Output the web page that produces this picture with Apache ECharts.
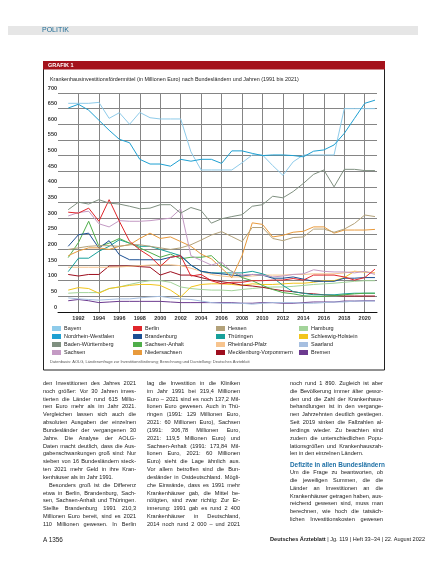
<!DOCTYPE html>
<html>
<head>
<meta charset="utf-8">
<script src="https://cdn.jsdelivr.net/npm/echarts@6/dist/echarts.min.js"></script>
<style>
  body { margin: 0; background: #fff; }
  #page { position: relative; width: 427px; height: 571px; overflow: hidden; }
  #chart { position: absolute; left: 0; top: 0; width: 427px; height: 571px; }
  .col { position: absolute; top: 380px; width: 93px; font-family: "Liberation Sans", sans-serif;
         font-size: 5.6px; line-height: 7.83px; color: #222; }
  .col div { text-align: justify; text-align-last: justify; white-space: nowrap; }
  .col div.end { text-align-last: left; }
  .col div.ind { text-indent: 6px; }
  .col div.head { color: #1d6fa5; font-weight: bold; font-size: 6.4px; text-align-last: left; }
  .foot { position: absolute; top: 536px; font-family: "Liberation Sans", sans-serif; font-size: 5.6px; color: #222; }
</style>
</head>
<body>
<div id="page">
  <div id="chart"></div>

  <div class="col" style="left:43px">
    <div>den Investitionen des Jahres 2021</div>
    <div>noch größer: Vor 30 Jahren inves-</div>
    <div>tierten die Länder rund 615 Millio-</div>
    <div>nen Euro mehr als im Jahr 2021.</div>
    <div>Vergleichen lassen sich auch die</div>
    <div>absoluten Ausgaben der einzelnen</div>
    <div>Bundesländer der vergangenen 30</div>
    <div>Jahre. Die Analyse der AOLG-</div>
    <div>Daten macht deutlich, dass die Aus-</div>
    <div>gabenschwankungen groß sind: Nur</div>
    <div>sieben von 16 Bundesländern steck-</div>
    <div>ten 2021 mehr Geld in ihre Kran-</div>
    <div class="end">kenhäuser als im Jahr 1991.</div>
    <div class="ind">Besonders groß ist die Differenz</div>
    <div>etwa in Berlin, Brandenburg, Sach-</div>
    <div>sen, Sachsen-Anhalt und Thüringen.</div>
    <div>Stellte Brandenburg 1991 210,3</div>
    <div>Millionen Euro bereit, sind es 2021</div>
    <div>110 Millionen gewesen. In Berlin</div>
  </div>

  <div class="col" style="left:147px">
    <div>lag die Investition in die Kliniken</div>
    <div>im Jahr 1991 bei 319,4 Millionen</div>
    <div>Euro – 2021 sind es noch 137,2 Mil-</div>
    <div>lionen Euro gewesen. Auch in Thü-</div>
    <div>ringen (1991: 129 Millionen Euro,</div>
    <div>2021: 60 Millionen Euro), Sachsen</div>
    <div>(1991: 306,78 Millionen Euro,</div>
    <div>2021: 119,5 Millionen Euro) und</div>
    <div>Sachsen-Anhalt (1991: 173,84 Mil-</div>
    <div>lionen Euro, 2021: 60 Millionen</div>
    <div>Euro) sieht die Lage ähnlich aus.</div>
    <div>Vor allem betroffen sind die Bun-</div>
    <div>desländer in Ostdeutschland. Mögli-</div>
    <div>che Einwände, dass es 1991 mehr</div>
    <div>Krankenhäuser gab, die Mittel be-</div>
    <div>nötigten, sind zwar richtig: Zur Er-</div>
    <div>innerung: 1991 gab es rund 2 400</div>
    <div>Krankenhäuser in Deutschland,</div>
    <div>2014 noch rund 2 000 – und 2021</div>
  </div>

  <div class="col" style="left:290px">
    <div>noch rund 1 890. Zugleich ist aber</div>
    <div>die Bevölkerung immer älter gewor-</div>
    <div>den und die Zahl der Krankenhaus-</div>
    <div>behandlungen ist in den vergange-</div>
    <div>nen Jahrzehnten deutlich gestiegen.</div>
    <div>Seit 2019 sinken die Fallzahlen al-</div>
    <div>lerdings wieder. Zu beachten sind</div>
    <div>zudem die unterschiedlichen Popu-</div>
    <div>lationsgrößen und Krankenhauszah-</div>
    <div class="end">len in den einzelnen Ländern.</div>
    <div class="head" style="margin-top:3px">Defizite in allen Bundesländern</div>
    <div>Um die Frage zu beantworten, ob</div>
    <div>die jeweiligen Summen, die die</div>
    <div>Länder an Investitionen an die</div>
    <div>Krankenhäuser getragen haben, aus-</div>
    <div>reichend gewesen sind, muss man</div>
    <div>berechnen, wie hoch die tatsäch-</div>
    <div>lichen Investitionskosten gewesen</div>
  </div>

  <div class="foot" style="left:43px;font-size:6.4px">A 1356</div>
  <div class="foot" style="left:270px"><b>Deutsches Ärzteblatt</b> | Jg. 119 | Heft 33–34 | 22. August 2022</div>
</div>

<script>
// Jahre und Fördermittel je Bundesland (Mio. Euro)
const years = [1991, 1992, 1993, 1994, 1995, 1996, 1997, 1998, 1999, 2000,
  2001, 2002, 2003, 2004, 2005, 2006, 2007, 2008, 2009, 2010,
  2011, 2012, 2013, 2014, 2015, 2016, 2017, 2018, 2019, 2020, 2021];

const bayern = [667, 667, 667, 670, 619, 637, 600, 638, 621, 617, 617, 617, 512, 454, 454, 454, 454, 477, 502, 502, 468, 437, 480, 502, 502, 502, 502, 650, 650, 650, 650];
const nrw = [652, 664, 645, 613, 581, 552, 541, 488, 473, 473, 466, 488, 482, 488, 488, 475, 515, 515, 507, 500, 502, 502, 500, 496, 514, 518, 534, 571, 619, 667, 677];
const bw = [327, 351, 345, 359, 348, 345, 338, 330, 332, 343, 343, 316, 334, 324, 284, 298, 305, 311, 338, 343, 370, 365, 385, 411, 440, 454, 400, 456, 456, 452, 452];
const sachsen = [307, 318, 322, 282, 272, 292, 290, 290, 292, 296, 300, 330, 180, 165, 150, 160, 128, 118, 120, 118, 112, 115, 120, 122, 135, 130, 128, 128, 125, 130, 120];
const berlin = [319, 316, 332, 290, 359, 290, 226, 199, 178, 146, 175, 180, 115, 120, 100, 90, 95, 95, 100, 100, 102, 102, 107, 102, 118, 118, 118, 112, 102, 110, 137];
const brandenburg = [210, 247, 252, 204, 228, 183, 167, 167, 167, 167, 175, 180, 150, 130, 125, 122, 118, 115, 120, 118, 108, 108, 112, 105, 98, 98, 98, 108, 108, 110, 110];
const sachsenAnhalt = [174, 222, 290, 210, 220, 235, 220, 205, 190, 175, 185, 170, 175, 175, 180, 150, 130, 110, 100, 85, 72, 62, 58, 52, 50, 50, 52, 55, 58, 60, 60];
const niedersachsen = [180, 195, 205, 205, 200, 210, 215, 235, 252, 235, 240, 225, 210, 185, 170, 140, 110, 180, 285, 280, 240, 245, 255, 258, 272, 272, 252, 262, 262, 262, 264];
const hessen = [200, 205, 210, 212, 212, 210, 215, 215, 210, 205, 200, 205, 215, 230, 246, 257, 241, 225, 270, 270, 235, 228, 238, 240, 265, 265, 255, 265, 283, 310, 305];
const thueringen = [129, 172, 172, 194, 210, 231, 220, 210, 210, 200, 190, 180, 150, 130, 125, 125, 125, 125, 130, 122, 110, 85, 65, 60, 55, 55, 55, 58, 60, 60, 60];
const rlp = [143, 143, 143, 143, 143, 144, 146, 148, 150, 151, 151, 148, 140, 130, 120, 115, 112, 112, 115, 118, 118, 118, 120, 120, 122, 122, 122, 125, 130, 128, 125];
const mv = [120, 115, 120, 120, 147, 147, 147, 145, 143, 118, 129, 118, 118, 110, 102, 97, 92, 86, 83, 79, 73, 68, 65, 60, 58, 55, 53, 51, 51, 51, 51];
const hamburg = [60, 62, 62, 62, 75, 80, 88, 95, 100, 100, 95, 80, 75, 72, 70, 70, 68, 72, 75, 78, 80, 80, 82, 85, 88, 90, 92, 95, 98, 100, 100];
const sh = [70, 78, 75, 60, 75, 80, 85, 88, 88, 85, 70, 48, 80, 88, 90, 90, 88, 85, 90, 88, 88, 90, 92, 92, 95, 100, 100, 110, 130, 128, 125];
const saarland = [45, 42, 40, 38, 40, 42, 42, 45, 48, 50, 45, 42, 40, 35, 30, 28, 28, 28, 25, 28, 30, 30, 30, 28, 28, 30, 32, 32, 35, 35, 35];
const bremen = [36, 40, 36, 30, 32, 34, 34, 34, 34, 34, 32, 30, 30, 30, 30, 30, 30, 28, 28, 30, 30, 28, 28, 30, 32, 32, 32, 35, 35, 36, 36];

// Legende spaltenweise wie im Original
const legendCols = [
  ["Bayern", "Nordrhein-Westfalen", "Baden-Württemberg", "Sachsen"],
  ["Berlin", "Brandenburg", "Sachsen-Anhalt", "Niedersachsen"],
  ["Hessen", "Thüringen", "Rheinland-Pfalz", "Mecklenburg-Vorpommern"],
  ["Hamburg", "Schleswig-Holstein", "Saarland", "Bremen"]
];

const states = [
  { name: "Bremen", values: bremen, color: "#6c3a8f" },
  { name: "Saarland", values: saarland, color: "#a6bfe0" },
  { name: "Hamburg", values: hamburg, color: "#a3d49a" },
  { name: "Schleswig-Holstein", values: sh, color: "#f2c51c" },
  { name: "Mecklenburg-Vorpommern", values: mv, color: "#9e0e1e" },
  { name: "Rheinland-Pfalz", values: rlp, color: "#f7c48e" },
  { name: "Thüringen", values: thueringen, color: "#17a09a" },
  { name: "Sachsen-Anhalt", values: sachsenAnhalt, color: "#4fae4a" },
  { name: "Brandenburg", values: brandenburg, color: "#1b4f93" },
  { name: "Niedersachsen", values: niedersachsen, color: "#e89a3c" },
  { name: "Hessen", values: hessen, color: "#b3a27a" },
  { name: "Sachsen", values: sachsen, color: "#c49ac4" },
  { name: "Berlin", values: berlin, color: "#e0262b" },
  { name: "Baden-Württemberg", values: bw, color: "#7f9080" },
  { name: "Bayern", values: bayern, color: "#8ecbea" },
  { name: "Nordrhein-Westfalen", values: nrw, color: "#1ea0d2" }
];

const font = "Liberation Sans";
const chart = echarts.init(document.getElementById("chart"), null, { renderer: "canvas" });

chart.setOption({
  animation: false,
  backgroundColor: "#fff",
  textStyle: { fontFamily: font },
  grid: { left: 58, right: 50, top: 93, bottom: 259 },
  legend: legendCols.map((col, i) => ({
    data: col,
    orient: "vertical",
    left: [52, 133, 216, 299][i],
    top: 325.5,
    padding: 0,
    icon: "rect",
    itemWidth: 9,
    itemHeight: 5,
    itemGap: 2,
    selectedMode: false,
    textStyle: { fontSize: 5.5, color: "#222", fontFamily: font, lineHeight: 5, padding: [0, 0, 0, -2] }
  })),
  xAxis: {
    type: "value",
    min: 1990,
    max: 2021.2,
    interval: 2,
    axisLine: { lineStyle: { color: "#111", width: 1 } },
    axisTick: { show: false },
    axisLabel: {
      fontSize: 5.5, color: "#333", fontWeight: "bold", margin: 3,
      showMinLabel: false, showMaxLabel: false,
      formatter: v => String(v)
    },
    splitLine: { show: true, showMinLine: false, showMaxLine: false, lineStyle: { color: "#858585", width: 1 } }
  },
  yAxis: {
    type: "value",
    min: 0,
    max: 700,
    interval: 50,
    axisLine: { show: false },
    axisTick: { show: false },
    axisLabel: {
      fontSize: 5.5, color: "#333", fontWeight: "bold", margin: 1,
      verticalAlign: "bottom", padding: [0, 0, 2, 0]
    },
    splitLine: { lineStyle: { color: "#858585", width: 1 } }
  },
  series: states.map(s => ({
    name: s.name,
    type: "line",
    data: years.map((y, i) => [y, s.values[i]]),
    symbol: "none",
    color: s.color,
    lineStyle: { width: 1, color: s.color }
  })),
  graphic: [
    { type: "rect", shape: { x: 8, y: 26, width: 410, height: 9 }, style: { fill: "#e6e6e6" } },
    { type: "text", x: 42, y: 30.5, style: { text: "POLITIK", fill: "#1f6b94", font: "7px " + font, textVerticalAlign: "middle" } },
    { type: "rect", shape: { x: 43.5, y: 61.5, width: 341, height: 308.5 }, style: { fill: "none", stroke: "#222", lineWidth: 1 } },
    { type: "rect", shape: { x: 43, y: 61, width: 342, height: 8.5 }, style: { fill: "#a4121b" } },
    { type: "text", x: 48, y: 65.3, style: { text: "GRAFIK 1", fill: "#fff", font: "bold 5.5px " + font, textVerticalAlign: "middle" } },
    { type: "text", x: 50, y: 80, style: { text: "Krankenhausinvestitionsfördermittel (in Millionen Euro) nach Bundesländern und Jahren (1991 bis 2021)", fill: "#222", font: "5.4px " + font, textVerticalAlign: "middle" } },
    { type: "text", x: 50, y: 362, style: { text: "Datenbasis: AOLG, Länderumfrage zur Investitionsförderung; Berechnung und Darstellung: Deutsches Ärzteblatt", fill: "#555", font: "4px " + font, textVerticalAlign: "middle" } }
  ]
});
</script>
</body>
</html>
